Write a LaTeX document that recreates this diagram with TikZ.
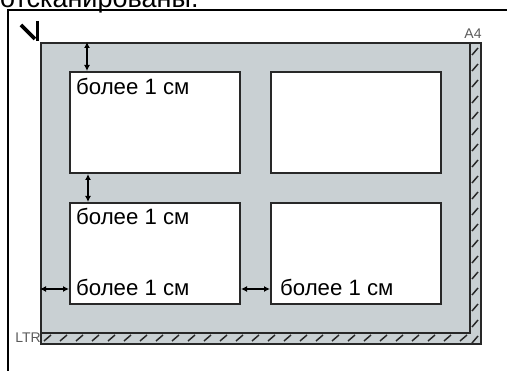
\documentclass[tikz,border=0pt]{standalone}
\usepackage{fontspec}
\setmainfont{Liberation Sans}
\usetikzlibrary{arrows.meta, positioning}
\definecolor{glassgrey}{RGB}{201, 208, 211}
\definecolor{edgedark}{RGB}{40, 40, 40}
\definecolor{taggrey}{RGB}{90, 90, 90}

\begin{document}
\begin{tikzpicture}[x=1pt, y=-1pt,
    every node/.style={font=\fontsize{22.2}{26}\selectfont, text=black},
    glassbed/.style={rectangle, draw=edgedark, line width=2pt, fill=glassgrey, minimum width=440pt, minimum height=301pt, inner sep=0pt, anchor=north west},
    doc/.style={rectangle, draw=edgedark, line width=2pt, fill=white, minimum width=170pt, minimum height=101pt, inner sep=0pt, anchor=north west},
    note/.style={anchor=base west, inner sep=0pt},
    gap/.style={{Latex[length=6pt,width=6pt]}-{Latex[length=6pt,width=6pt]}, line width=2.4pt, black},
    tag/.style={font=\fontsize{14}{16}\selectfont, text=taggrey, inner sep=0pt}
]
\useasboundingbox (0,0) rectangle (507,371);
\clip (0,0) rectangle (507,371);

% caption cut off at the top
\node[note, font=\fontsize{27}{30}\selectfont] (caption) at (0,8) {отсканированы.};

% frame
\draw[line width=2pt] (8,371) -- (8,10) -- (507,10);

% placement mark
\draw[line width=3.6pt] (21,25) -- (35,39);
\draw[line width=3.4pt] (37.5,21) -- (37.5,41.5);

% scanner glass with hatched edges
\node[glassbed] (glass) at (40,42) {};
\draw[edgedark, line width=2pt] (470,42) -- (470,333) -- (40,333);
\foreach \y in {48,64,...,336}
  \draw[edgedark, line width=1.5pt] (472,\y+7) -- (478,\y);
\foreach \x in {44,60,...,466}
  \draw[edgedark, line width=1.5pt] (\x,341) -- (\x+7,335);
\node[tag, anchor=south] (a4) at (473,39) {A4};
\node[tag, anchor=east] (ltr) at (41,338) {LTR};

% documents
\node[doc] (tl) at (69,71) {};
\node[doc, right=29pt of tl] (tr) {};
\node[doc, below=28pt of tl] (bl) {};
\node[doc, below=28pt of tr] (br) {};

\node[note] (tlnote) at ([shift={(7,24)}]tl.north west) {более 1 см};
\node[note] (blnote) at ([shift={(7,23)}]bl.north west) {более 1 см};
\node[note] (blside) at ([shift={(7,-9)}]bl.south west) {более 1 см};
\node[note] (brside) at ([shift={(10,-9)}]br.south west) {более 1 см};

% margins
\coordinate (topgap) at ([xshift=18pt]tl.north west);
\coordinate (midgap) at ([xshift=19pt]bl.north west);
\coordinate (sidegap) at ([yshift=16pt]bl.south west);
\draw[gap] (topgap |- glass.north) -- (topgap);
\draw[gap] (midgap |- tl.south) -- (midgap);
\draw[gap] (glass.west |- sidegap) -- (sidegap);
\draw[gap] (bl.east |- sidegap) -- (br.west |- sidegap);

\end{tikzpicture}
\end{document}
